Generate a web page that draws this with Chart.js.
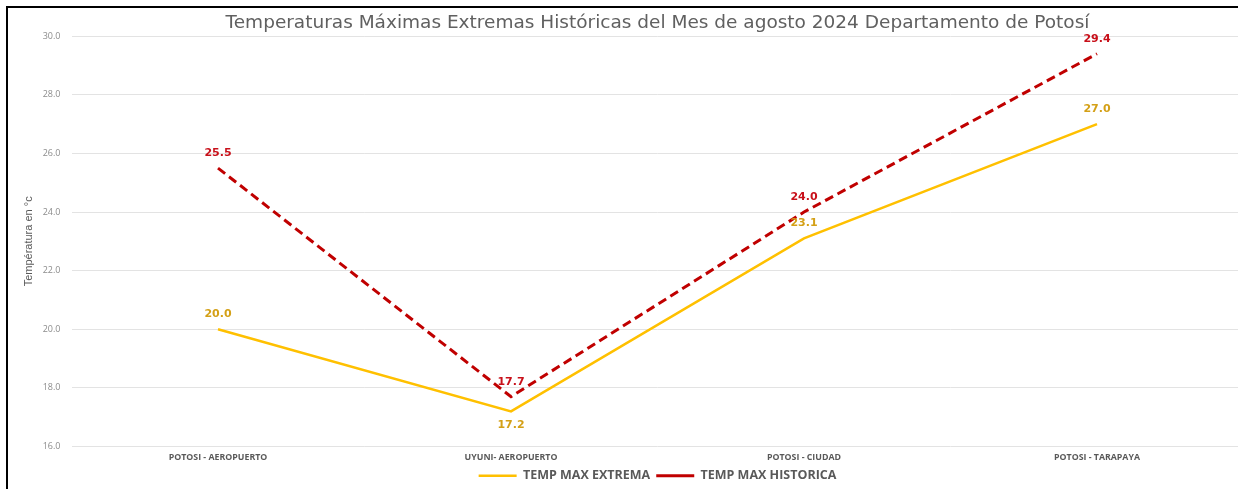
<!DOCTYPE html>
<html>
<head>
<meta charset="utf-8">
<script src="https://cdn.jsdelivr.net/npm/chart.js"></script>
<style>
  html, body { margin: 0; padding: 0; background: #fff; overflow: hidden; }
  #wrap { position: relative; width: 1238px; height: 489px; overflow: hidden; }
  #frame { position: absolute; left: 6px; top: 6px; width: 1300px; height: 500px;
           border-left: 2px solid #000; border-top: 2px solid #000; pointer-events: none; }
  canvas { position: absolute; left: 0; top: 0; }
</style>
</head>
<body>
<div id="wrap">
  <canvas id="tempChart" width="1284" height="492"></canvas>
  <div id="frame"></div>
</div>
<script>
// Estaciones y valores (°C)
const stations = ['POTOSI - AEROPUERTO', 'UYUNI- AEROPUERTO', 'POTOSI - CIUDAD', 'POTOSI - TARAPAYA'];
const tempMaxExtrema = [20.0, 17.2, 23.1, 27.0];
const tempMaxHistorica = [25.5, 17.7, 24.0, 29.4];
const yTicks = [16, 18, 20, 22, 24, 26, 28, 30];

const chartTitle = 'Temperaturas Máximas Extremas Históricas del Mes de agosto 2024 Departamento de Potosí';

// simple value labels (no datalabels plugin offline)
const valueLabels = {
    id: 'valueLabels',
    afterDatasetsDraw(chart) {
        const ctx = chart.ctx;
        ctx.save();
        ctx.font = 'bold 11px "DejaVu Sans"';
        ctx.textAlign = 'center';
        ctx.textBaseline = 'middle';
        chart.data.datasets.forEach((ds, i) => {
            const meta = chart.getDatasetMeta(i);
            ctx.fillStyle = ds.labelColor;
            meta.data.forEach((pt, j) => {
                const below = ds.labelBelow && ds.labelBelow[j];
                const y = below ? pt.y + 14 : pt.y - 15;
                ctx.fillText(ds.data[j].toFixed(1), pt.x, y);
            });
        });
        ctx.restore();
    }
};

const ctx = document.getElementById('tempChart').getContext('2d');
new Chart(ctx, {
    type: 'line',
    data: {
        labels: stations,
        datasets: [{
            label: 'TEMP MAX EXTREMA',
            data: tempMaxExtrema,
            borderColor: '#FFC000',
            backgroundColor: '#FFC000',
            borderWidth: 2.5,
            pointRadius: 0,
            tension: 0,
            labelColor: '#D4A017',
            labelBelow: [false, true, false, false]
        }, {
            label: 'TEMP MAX HISTORICA',
            data: tempMaxHistorica,
            borderColor: '#C00000',
            backgroundColor: '#C00000',
            borderWidth: 3,
            borderDash: [9, 5],
            pointRadius: 0,
            tension: 0,
            labelColor: '#C8101A'
        }]
    },
    options: {
        responsive: false,
        animation: false,
        layout: { padding: { left: 8, right: 40.5, top: 8, bottom: 0 } },
        plugins: {
            title: {
                display: true,
                text: chartTitle,
                fullSize: false,
                color: '#606060',
                font: { family: '"DejaVu Sans"', size: 18.5, weight: 'normal' },
                padding: { top: 4, bottom: 2 }
            },
            legend: {
                position: 'bottom',
                fullSize: false,
                labels: {
                    usePointStyle: true,
                    pointStyle: 'line',
                    pointStyleWidth: 38,
                    padding: 6,
                    color: '#595959',
                    font: { family: '"Open Sans"', size: 12.5, weight: 'bold' }
                }
            },
            tooltip: { enabled: false }
        },
        scales: {
            x: {
                offset: true,
                afterFit(scale) { scale.height = 17; },
                grid: { display: false, drawTicks: false },
                border: { display: false },
                ticks: {
                    padding: 6,
                    color: '#595959',
                    font: { family: '"Open Sans"', size: 8.8, weight: 'bold' }
                }
            },
            y: {
                min: yTicks[0],
                max: yTicks[yTicks.length - 1],
                afterFit(scale) { scale.width = 63.5; },
                afterBuildTicks(scale) { scale.ticks = yTicks.map(v => ({ value: v })); },
                grid: { color: '#e3e3e3', drawTicks: false },
                border: { display: false },
                ticks: {
                    padding: 11,
                    color: '#8c8c8c',
                    font: { family: '"Open Sans"', size: 9 },
                    callback: v => v.toFixed(1)
                },
                title: {
                    display: true,
                    text: 'Températura en °c',
                    color: '#595959',
                    padding: { top: 14, bottom: 0 },
                    font: { family: '"Liberation Sans"', size: 11 }
                }
            }
        }
    },
    plugins: [valueLabels]
});
</script>
</body>
</html>
